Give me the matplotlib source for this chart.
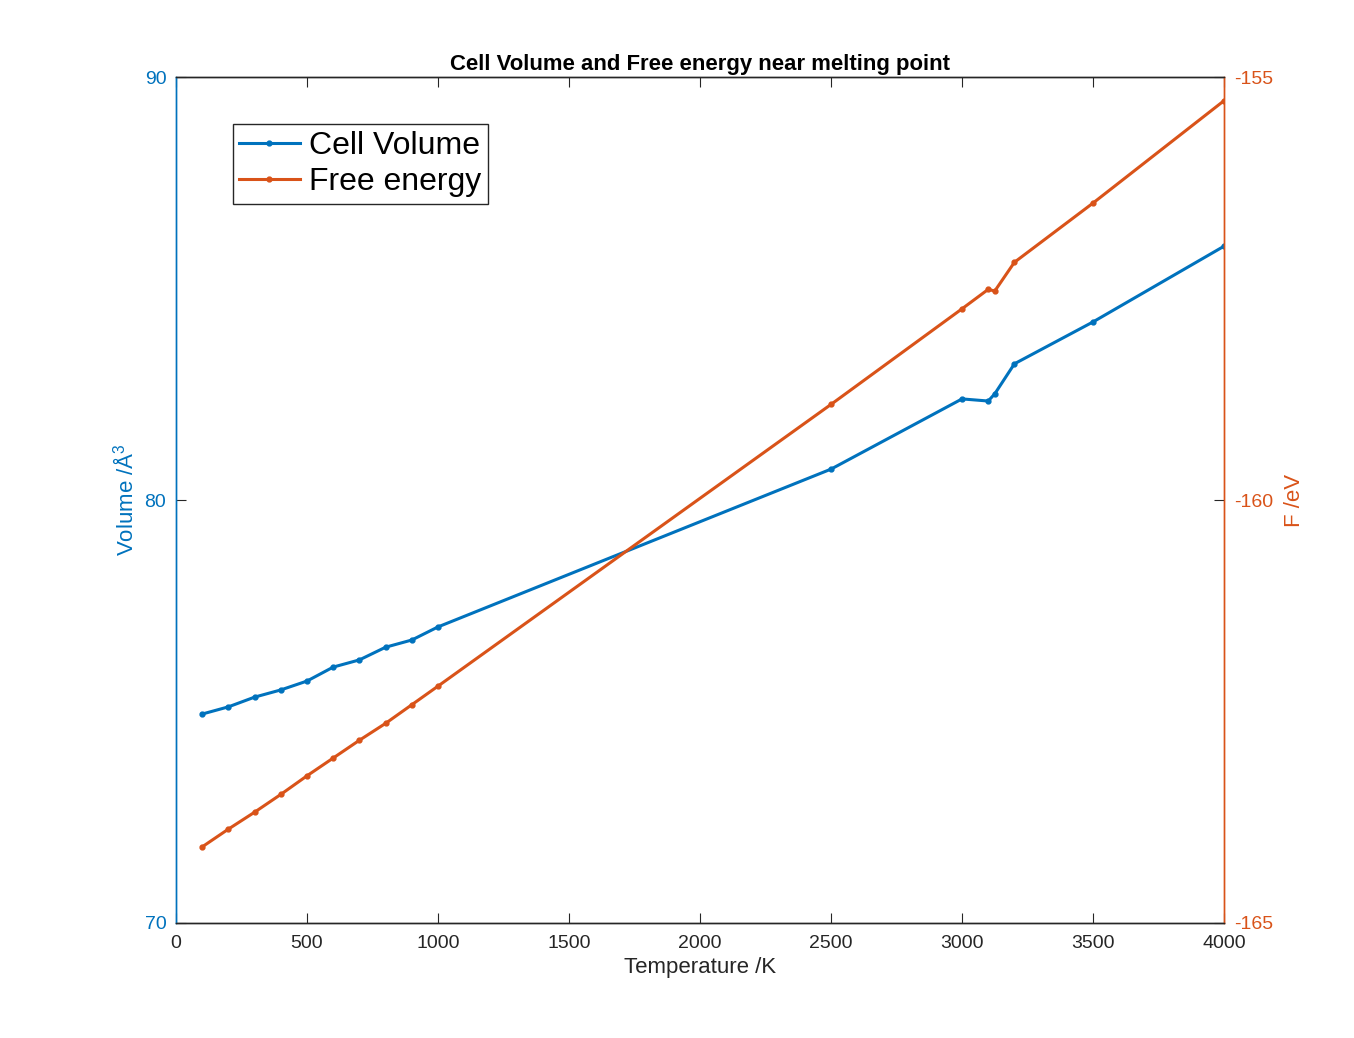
import matplotlib
matplotlib.use("Agg")
import matplotlib.pyplot as plt

plt.rcParams['font.family'] = ['Liberation Sans', 'DejaVu Sans']
plt.rcParams['mathtext.fontset'] = 'custom'
plt.rcParams['mathtext.rm'] = 'Liberation Sans'
plt.rcParams['axes.unicode_minus'] = False

# data
temperature = [100, 200, 300, 400, 500, 600, 700, 800, 900, 1000,
               2500, 3000, 3100, 3125, 3200, 3500, 4000]
cell_volume = [74.94, 75.11, 75.34, 75.51, 75.72, 76.05, 76.22, 76.52, 76.69, 77.00,
               80.73, 82.39, 82.34, 82.51, 83.22, 84.21, 86.00]
free_energy = [-164.10, -163.89, -163.69, -163.48, -163.26, -163.05, -162.84, -162.64, -162.42, -162.20,
               -158.87, -157.74, -157.51, -157.53, -157.19, -156.49, -155.28]

x_ticks = [0, 500, 1000, 1500, 2000, 2500, 3000, 3500, 4000]
left_ticks = [70, 80, 90]
right_ticks = [-165, -160, -155]

blue = '#0072BD'
orange = '#D95319'
dark = '#262626'

fig = plt.figure(figsize=(13.54, 10.38), dpi=100)
ax = fig.add_axes([0.130, 0.1108, 0.774, 0.815])
ax2 = ax.twinx()

l1, = ax.plot(temperature, cell_volume, '.-', color=blue, lw=2.2, markersize=7, label='Cell Volume')
l2, = ax2.plot(temperature, free_energy, '.-', color=orange, lw=2.2, markersize=7, label='Free energy')

ax.set_xlim(0, 4000)
ax.set_ylim(70, 90)
ax2.set_ylim(-165, -155)
ax.set_xticks(x_ticks)
ax.set_yticks(left_ticks)
ax2.set_yticks(right_ticks)

ax.tick_params(axis='x', direction='in', length=7, colors=dark, labelsize=14, top=True, pad=9)
ax.tick_params(axis='y', direction='in', length=7, color=dark, labelcolor=blue, labelsize=14, pad=7)
ax2.tick_params(axis='y', direction='in', length=7, color=dark, labelcolor=orange, labelsize=14, pad=7)

for a in (ax, ax2):
    a.spines['top'].set_color(dark)
    a.spines['bottom'].set_color(dark)
    a.spines['left'].set_color(blue)
    a.spines['right'].set_color(orange)
    for s in a.spines.values():
        s.set_linewidth(1.0)

ax.set_xlabel('Temperature /K', fontsize=16, color=dark, labelpad=3)
ax.set_ylabel('Volume /Å$^3$', fontsize=16, color=blue, labelpad=4)
ax2.set_ylabel('F /eV', fontsize=16, color=orange, labelpad=8)
ax.set_title('Cell Volume and Free energy near melting point', fontsize=15.9, fontweight='bold', pad=5)

leg = ax.legend(handles=[l1, l2], loc='upper left', bbox_to_anchor=(0.054, 0.944),
                borderaxespad=0, fontsize=23, fancybox=False, framealpha=1,
                edgecolor=dark, handlelength=1.9, handletextpad=0.3,
                borderpad=0.2, labelspacing=0.2)
leg.get_frame().set_linewidth(1.0)

fig.savefig('out.png', dpi=100)
